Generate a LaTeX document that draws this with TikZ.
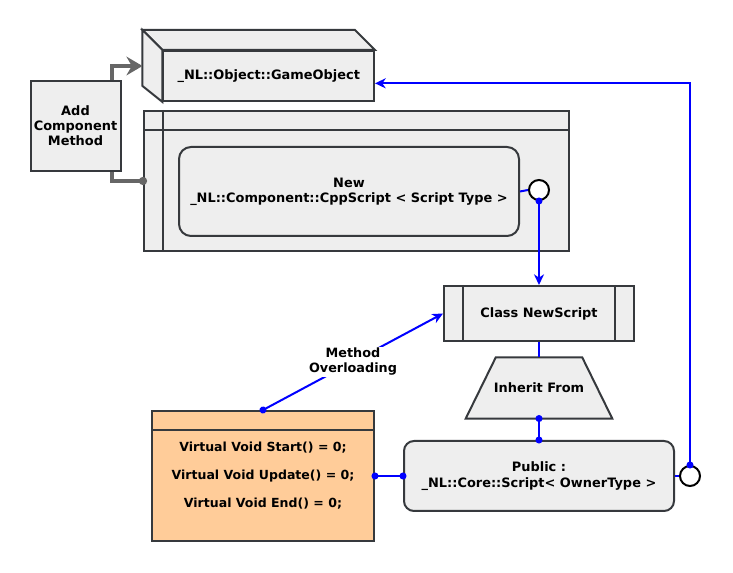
\documentclass[tikz,border=0pt]{standalone}
\usepackage{fontspec}
\setmainfont{DejaVu Sans}
\usetikzlibrary{arrows.meta}

\definecolor{boxfill}{HTML}{EEEEEE}
\definecolor{boxline}{HTML}{36393D}
\definecolor{peach}{HTML}{FFCC99}
\definecolor{linkblue}{HTML}{0000FF}
\definecolor{wiregray}{HTML}{666666}

\tikzset{
  box/.style={draw=boxline, fill=boxfill, line width=1.5pt, inner sep=0pt,
    align=center, font=\bfseries\fontsize{9.7}{11.5}\selectfont},
  port/.style={draw=black, fill=white, line width=1.5pt, circle, inner sep=0pt, minimum size=15pt},
  link/.style={draw=linkblue, line width=1.5pt},
  wire/.style={draw=wiregray, line width=3pt},
  dotDot/.style={arrows={Circle[length=5.2pt]-Circle[length=5.2pt]},
    shorten <=-2.6pt, shorten >=-2.6pt},
  dotHead/.style={arrows={Circle[length=5.2pt]-Stealth[length=8pt,width=7.5pt,inset=2.5pt]},
    shorten <=-2.6pt}
}

\begin{document}
\begin{tikzpicture}[x=0.75pt,y=-0.75pt]
\useasboundingbox (0,0) rectangle (733,573);

% game object (cube)
\node[box, minimum width=157.9pt, minimum height=37.5pt] (go) at (268.75,76) {\_NL::Object::GameObject};
\draw[box] (go.north west) -- ++(-15pt,15pt) -- ([xshift=-15pt,yshift=15pt]go.north east)
  -- (go.north east) -- cycle;
\draw[box] (go.north west) -- ++(-15pt,15pt) -- ([xshift=-15pt,yshift=-7.5pt]go.west)
  -- (go.south west) -- cycle;

% add component
\node[box, minimum width=67.5pt, minimum height=67.5pt, font=\bfseries\fontsize{9.7}{11.25}\selectfont]
  (ac) at (75.5,126) {Add\\Component\\Method};

% container with lanes
\node[box, minimum width=318.75pt, minimum height=105pt] (lane) at (356.5,181) {};
\draw[box] ([xshift=15pt]lane.north west) -- ([xshift=15pt]lane.south west);
\draw[box] ([yshift=-15pt]lane.north west) -- ([yshift=-15pt]lane.north east);

\node[box, rounded corners=9pt, minimum width=255pt, minimum height=66.75pt]
  (cpp) at (349,191.5) {New\\\_NL::Component::CppScript < Script Type >};
\node[port] (cppPort) at (539,190) {};

% class
\node[box, minimum width=142.5pt, minimum height=41.25pt] (cls) at (539,313.5) {Class NewScript};
\draw[box] ([xshift=15pt]cls.north west) -- ([xshift=15pt]cls.south west);
\draw[box] ([xshift=-15pt]cls.north east) -- ([xshift=-15pt]cls.south east);

% inherit (trapezoid)
\node[minimum width=109.5pt, minimum height=45.4pt, inner sep=0pt] (inh) at (539,388) {};
\draw[box] (inh.south west) -- ([xshift=22.5pt]inh.north west)
  -- ([xshift=-22.5pt]inh.north east) -- (inh.south east) -- cycle;
\node[font=\bfseries\fontsize{9.7}{11.5}\selectfont] (inhText) at (inh.center) {Inherit From};

\node[box, rounded corners=7.5pt, minimum width=202.5pt, minimum height=52.5pt]
  (pub) at (539,476) {Public :\\\_NL::Core::Script< OwnerType >};
\node[port] (pubPort) at (690,476) {};

% virtual methods
\node[box, fill=peach, minimum width=166.5pt, minimum height=97.5pt] (vm) at (263,476) {};
\draw[box] ([yshift=-15pt]vm.north west) -- ([yshift=-15pt]vm.north east);
\node[font=\bfseries\fontsize{9.4}{11.5}\selectfont, align=center] (vmText) at (263,476)
  {Virtual Void Start() = 0;\\[9.5pt]Virtual Void Update() = 0;\\[9.5pt]Virtual Void End() = 0;};

% connectors
\draw[wire, arrows={-Stealth[length=12pt,width=14pt,inset=4pt]}]
  ([xshift=-7.5pt]ac.north east) |- ([xshift=-15pt,yshift=7.5pt]go.west);
\draw[wire, arrows={-Circle[length=6pt]}, shorten >=-3pt]
  ([xshift=-7.5pt]ac.south east) |- (lane.west);

\draw[link] (cpp.east) -- (cppPort.west);
\draw[link, dotHead] (cppPort.south) -- (cls.north);
\draw[link] (cls.south) -- (inh.north);
\draw[link, dotDot] (inh.south) -- (pub.north);
\draw[link, dotDot] (vm.east) -- (pub.west);
\draw[link] (pub.east) -- (pubPort.west);
\draw[link, dotHead] (pubPort.north) |- ([yshift=-5.5pt]go.east);
\draw[link, dotHead] (vm.north) -- (cls.west)
  node[pos=0.5, fill=white, inner sep=1pt, text=black, align=center,
    font=\bfseries\fontsize{9.6}{11}\selectfont] (ovl) {Method\\Overloading};

\end{tikzpicture}
\end{document}
